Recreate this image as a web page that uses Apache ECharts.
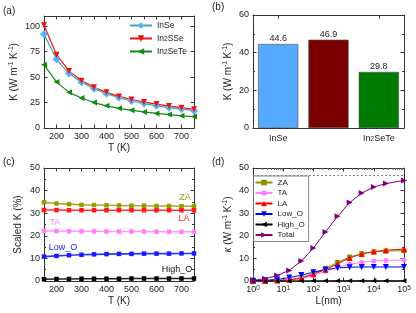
<!DOCTYPE html>
<html><head><meta charset="utf-8">
<script src="https://cdn.jsdelivr.net/npm/echarts@6/dist/echarts.min.js"></script>
<style>html,body{margin:0;padding:0;background:#fff}#c{width:416px;height:313px}</style>
</head><body><div id="c"></div>
<script>
// ---------- data ----------
const temperatures = [150,200,250,300,350,400,450,500,550,600,650,700,750];
const kappaInSe    = [92,67.5,53.5,45,38.5,33.7,29.8,26.5,24,21.8,20,18.5,17];
const kappaIn2SSe  = [101,72,56,46.5,40,35,31,28,25.5,23.5,21.5,20,18.3];
const kappaIn2SeTe = [62,45.3,35,29.5,25,21.8,19.3,17.4,15.8,14.3,13.2,12,11.2];

const materials = ['InSe','In2SSe','In2SeTe'];
const kappa300  = [44.6,46.9,29.8];

const scaledZA   = [34.8,34.3,34.0,33.7,33.6,33.5,33.4,33.3,33.3,33.2,33.2,33.1,33.1];
const scaledLA   = [31.4,31.4,31.3,31.3,31.3,31.3,31.3,31.3,31.3,31.3,31.3,31.3,31.3];
const scaledTA   = [22.2,22.1,22.0,22.0,22.0,21.9,21.9,21.9,21.9,21.8,21.8,21.8,21.8];
const scaledLowO = [10.8,11.1,11.4,11.6,11.8,11.9,12.0,12.0,12.1,12.1,12.1,12.2,12.2];
const scaledHighO= [0.8,0.9,0.9,1.0,1.0,1.0,1.0,1.1,1.1,1.1,1.1,1.1,1.1];

const lengthNm   = [1,2.5,6.3,15.8,39.8,100,251,631,1585,3981,10000,25119,100000];
const cumZA      = [0,0.1,0.2,0.6,1.5,3.3,5.6,8.2,10.6,12.1,12.9,13.3,13.4];
const cumTA      = [0,0.05,0.15,0.4,1.0,2.4,4.3,6.0,7.4,8.3,8.8,9.1,9.3];
const cumLA      = [0,0.05,0.2,0.5,1.3,3.0,5.0,7.6,10.2,12.0,13.0,13.6,14.1];
const cumLowO    = [0.1,0.3,0.7,1.5,2.6,3.9,5.0,5.8,6.1,6.2,6.2,6.2,6.2];
const cumHighO   = [0,0,0.01,0.03,0.06,0.09,0.11,0.12,0.13,0.13,0.13,0.13,0.13];
const cumTotal   = [0.3,1.0,2.4,4.7,8.8,14.6,21.7,28.6,34.7,38.9,41.6,43.1,44.5];
const refKappaD  = 46.9;

const panelLetters = ['(a)','(b)','(c)','(d)'];
const modeLabels = ['ZA','LA','TA','Low_O','High_O'];

// ---------- styling helpers ----------
const FONT = '"Liberation Sans", Arial, sans-serif';
const AX = '#333';
const TXT = '#222';
const richSS = {
  sup: {fontSize: 6.5, lineHeight: 7, verticalAlign: 'top', fontFamily: FONT, color: TXT},
  sub: {fontSize: 6.5, lineHeight: 7, verticalAlign: 'bottom', fontFamily: FONT, color: TXT},
  k:   {fontSize: 10, fontFamily: FONT, color: TXT, fontStyle: 'italic'}
};
const subName = n => n.replace(/In2/, 'In{sub|2}');
const zip = (xs, ys) => xs.map((x, i) => [x, ys[i]]);

const grids = [
  {left: 44,  top: 16,  width: 150, height: 112},
  {left: 253, top: 15,  width: 151, height: 113},
  {left: 44,  top: 168, width: 150, height: 113},
  {left: 253, top: 168, width: 151, height: 113}
];

function baseAxis(gi, pos, extra) {
  return Object.assign({
    gridIndex: gi, position: pos,
    axisLine: {show: true, onZero: false, lineStyle: {color: AX, width: 1}},
    axisTick: {show: true, inside: true, length: 3.5, lineStyle: {color: AX}},
    splitLine: {show: false},
    axisLabel: {show: true, fontSize: 9, fontFamily: FONT, color: TXT, margin: 4},
    nameTextStyle: {fontSize: 10, fontFamily: FONT, color: TXT, lineHeight: 13, rich: richSS},
    nameLocation: 'middle'
  }, extra);
}
function mirror(ax, pos) {
  const m = JSON.parse(JSON.stringify(ax));
  m.position = pos;
  m.name = '';
  m.axisLabel = {show: false};
  return m;
}
const minor = {show: true, splitNumber: 2, length: 2, lineStyle: {color: AX}};

// x axes
const xA = baseAxis(0, 'bottom', {type: 'value', min: 150, max: 750, interval: 50,
  axisLabel: {fontSize: 9, fontFamily: FONT, color: TXT, margin: 4, formatter: v => v % 100 === 0 ? String(v) : ''},
  name: 'T (K)', nameGap: 13});
const xB = baseAxis(1, 'bottom', {type: 'category', data: materials,
  axisTick: {show: true, inside: true, length: 3.5, alignWithLabel: true, lineStyle: {color: AX}},
  axisLabel: {fontSize: 9, fontFamily: FONT, color: TXT, margin: 6, formatter: subName, rich: richSS}});
const xC = baseAxis(2, 'bottom', {type: 'value', min: 150, max: 750, interval: 50,
  axisLabel: {fontSize: 9, fontFamily: FONT, color: TXT, margin: 4, formatter: v => v % 100 === 0 ? String(v) : ''},
  name: 'T (K)', nameGap: 12});
const xD = baseAxis(3, 'bottom', {type: 'log', logBase: 10, min: 1, max: 100000,
  axisLabel: {fontSize: 9, fontFamily: FONT, color: TXT, margin: 4,
    formatter: v => '10{sup|' + Math.round(Math.log10(v)) + '}', rich: richSS},
  name: 'L(nm)', nameGap: 12});

// y axes
const yA = baseAxis(0, 'left', {type: 'value', min: 0, max: 110, interval: 25,
  axisLabel: {fontSize: 9, fontFamily: FONT, color: TXT, margin: 4, showMaxLabel: false},
  name: 'Κ (W m{sup|-1} K{sup|-1})', nameGap: 16});
const yB = baseAxis(1, 'left', {type: 'value', min: 0, max: 60, interval: 20, minorTick: minor,
  name: 'Κ (W m{sup|-1} K{sup|-1})', nameGap: 15});
const yC = baseAxis(2, 'left', {type: 'value', min: 0, max: 50, interval: 10, minorTick: minor,
  name: 'Scaled Κ (%)', nameGap: 19});
const yD = baseAxis(3, 'left', {type: 'value', min: 0, max: 50, interval: 10, minorTick: minor,
  name: '{k|κ} (W m{sup|-1} K{sup|-1})', nameGap: 17});

const xTopD = mirror(xD, 'top');
xTopD.minorTick = {show: true, splitNumber: 9, length: 2, lineStyle: {color: '#666'}};

const xAxes = [xA, mirror(xA, 'top'), xB, mirror(xB, 'top'), xC, mirror(xC, 'top'), xD, xTopD];
const yAxes = [yA, mirror(yA, 'right'), yB, mirror(yB, 'right'), yC, mirror(yC, 'right'), yD, mirror(yD, 'right')];

function lineSeries(name, xi, data, color, symbol, size, rot, extra) {
  return Object.assign({
    type: 'line', name: name, xAxisIndex: xi, yAxisIndex: xi, data: data,
    symbol: symbol, symbolSize: size, symbolRotate: rot || 0,
    lineStyle: {color: color, width: 1.2},
    itemStyle: {color: color},
    animation: false, z: 3
  }, extra || {});
}

const series = [
  // (a)
  lineSeries('InSe', 0, zip(temperatures, kappaInSe), '#3aa8b0', 'diamond', 8, 0, {itemStyle: {color: '#5ab0f5'}}),
  lineSeries('In2SSe', 0, zip(temperatures, kappaIn2SSe), '#ee1111', 'triangle', 6, 180),
  lineSeries('In2SeTe', 0, zip(temperatures, kappaIn2SeTe), '#128a12', 'triangle', 6, 90),
  // (b)
  {type: 'bar', xAxisIndex: 2, yAxisIndex: 2, barWidth: '80%', animation: false,
    data: kappa300.map((v, i) => ({value: v, itemStyle: {color: ['#55aaff', '#7a0000', '#007a00'][i]}})),
    itemStyle: {borderColor: '#555', borderWidth: 0.6},
    label: {show: true, position: 'top', distance: 1, fontSize: 9, fontFamily: FONT, color: TXT}},
  // (c)
  lineSeries('c-ZA', 4, zip(temperatures, scaledZA), '#999900', 'rect', 4.5, 0, {lineStyle: {color: '#a8a830', width: 1.6}}),
  lineSeries('c-LA', 4, zip(temperatures, scaledLA), '#ff1a1a', 'rect', 4.5, 0, {lineStyle: {color: '#ff3333', width: 1.6}}),
  lineSeries('c-TA', 4, zip(temperatures, scaledTA), '#ff80ff', 'rect', 4.5, 0, {lineStyle: {color: '#ff99ff', width: 1.6}}),
  lineSeries('c-Low_O', 4, zip(temperatures, scaledLowO), '#1a1aff', 'rect', 4.5, 0, {lineStyle: {color: '#3333ff', width: 1.6}}),
  lineSeries('c-High_O', 4, zip(temperatures, scaledHighO), '#000000', 'rect', 4.5, 0, {lineStyle: {color: '#222', width: 1.6}}),
  // (d)
  lineSeries('ZA', 6, zip(lengthNm, cumZA), '#8f8f00', 'rect', 5, 0, {lineStyle: {color: '#8f8f00', width: 1}}),
  lineSeries('TA', 6, zip(lengthNm, cumTA), '#ff80ff', 'circle', 5, 0, {lineStyle: {color: '#ff80ff', width: 1}}),
  lineSeries('LA', 6, zip(lengthNm, cumLA), '#ff0000', 'triangle', 6, 0, {lineStyle: {color: '#ff0000', width: 1}}),
  lineSeries('Low_O', 6, zip(lengthNm, cumLowO), '#0000ff', 'triangle', 6, 180, {lineStyle: {color: '#0000ff', width: 1}}),
  lineSeries('High_O', 6, zip(lengthNm, cumHighO), '#000000', 'triangle', 5, 90, {lineStyle: {color: '#000000', width: 1}}),
  lineSeries('Total', 6, zip(lengthNm, cumTotal), '#800080', 'triangle', 6, -90, {lineStyle: {color: '#800080', width: 1},
    markLine: {silent: true, symbol: ['none', 'none'], label: {show: false},
      lineStyle: {type: [2, 2], color: '#888', width: 1}, data: [{yAxis: refKappaD}]}})
];

const legendText = {fontSize: 8.5, fontFamily: FONT, color: TXT, rich: richSS};
const legends = [
  {data: ['InSe', 'In2SSe', 'In2SeTe'], orient: 'vertical', left: 129, top: 21,
    itemWidth: 22, itemHeight: 8, itemGap: 4, formatter: subName, textStyle: legendText,
    padding: 0},
  {data: ['ZA', 'TA', 'LA', 'Low_O', 'High_O', 'Total'], orient: 'vertical', left: 253.5, top: 176,
    itemWidth: 17, itemHeight: 7, itemGap: 1.5, textStyle: {fontSize: 8, fontFamily: FONT, color: TXT, lineHeight: 9},
    borderColor: '#666', borderWidth: 0.8, padding: [2, 4, 2, 1], backgroundColor: '#fff'}
];

// Text annotations
const letterPos = [[3, 11], [212, 7], [3, 162], [212, 162]];
const modeLabelColors = ['#999900', '#ff2222', '#ff88ff', '#2222ff', '#111111'];
const modeLabelPos = [[185, 198], [184, 219], [55, 223], [63, 248], [177, 270]];
const graphics = [];
panelLetters.forEach((t, i) => graphics.push({type: 'text', x: letterPos[i][0], y: letterPos[i][1],
  style: {text: t, fontSize: 10, fontFamily: FONT, fill: TXT, verticalAlign: 'middle', textVerticalAlign: 'middle'}}));
modeLabels.forEach((t, i) => graphics.push({type: 'text', x: modeLabelPos[i][0], y: modeLabelPos[i][1],
  style: {text: t, fontSize: 9, fontFamily: FONT, fill: modeLabelColors[i],
    align: 'center', textAlign: 'center', verticalAlign: 'middle', textVerticalAlign: 'middle'}}));

const chart = echarts.init(document.getElementById('c'), null, {renderer: 'canvas'});
chart.setOption({
  backgroundColor: '#fff',
  animation: false,
  grid: grids.map(g => Object.assign({show: false, containLabel: false}, g)),
  xAxis: xAxes,
  yAxis: yAxes,
  legend: legends,
  series: series,
  graphic: graphics
});
</script></body></html>
